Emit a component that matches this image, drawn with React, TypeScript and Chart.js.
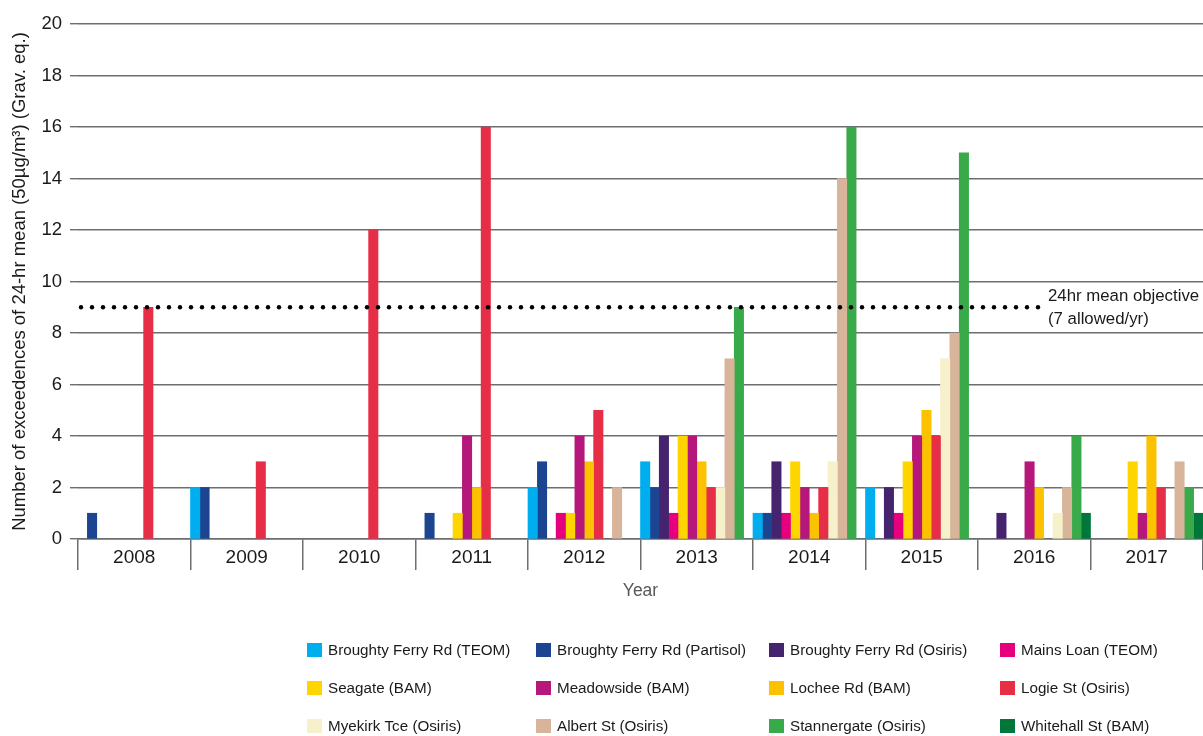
import React, { useEffect, useRef } from "react";
import { Chart, registerables } from "chart.js";

Chart.register(...registerables);

// ---------- data ----------
const YEARS = ["2008", "2009", "2010", "2011", "2012", "2013", "2014", "2015", "2016", "2017"];

const SERIES_NAMES = [
  "Broughty Ferry Rd (TEOM)",
  "Broughty Ferry Rd (Partisol)",
  "Broughty Ferry Rd (Osiris)",
  "Mains Loan (TEOM)",
  "Seagate (BAM)",
  "Meadowside (BAM)",
  "Lochee Rd (BAM)",
  "Logie St (Osiris)",
  "Myekirk Tce (Osiris)",
  "Albert St (Osiris)",
  "Stannergate (Osiris)",
  "Whitehall St (BAM)",
];

const SERIES_COLORS = [
  "#00aeef",
  "#1b4591",
  "#46236e",
  "#e6007e",
  "#ffd500",
  "#b5177a",
  "#fcc200",
  "#e62e47",
  "#f6f0cb",
  "#d7b49a",
  "#39aa4a",
  "#00763a",
];

const BFR_TEOM = [null, 2, null, null, 2, 3, 1, 2, null, null];
const BFR_PARTISOL = [1, 2, null, 1, 3, 2, 1, null, null, null];
const BFR_OSIRIS = [null, null, null, null, null, 4, 3, 2, 1, null];
const MAINS_LOAN = [null, null, null, null, 1, 1, 1, 1, null, null];
const SEAGATE = [null, null, null, 1, 1, 4, 3, 3, null, 3];
const MEADOWSIDE = [null, null, null, 4, 4, 4, 2, 4, 3, 1];
const LOCHEE_RD = [null, null, null, 2, 3, 3, 1, 5, 2, 4];
const LOGIE_ST = [9, 3, 12, 16, 5, 2, 2, 4, null, 2];
const MYEKIRK = [null, null, null, null, null, 2, 3, 7, 1, null];
const ALBERT_ST = [null, null, null, null, 2, 7, 14, 8, 2, 3];
const STANNERGATE = [null, null, null, null, null, 9, 16, 15, 4, 2];
const WHITEHALL = [null, null, null, null, null, null, null, null, 1, 1];

const SERIES_VALUES = [
  BFR_TEOM, BFR_PARTISOL, BFR_OSIRIS, MAINS_LOAN, SEAGATE, MEADOWSIDE,
  LOCHEE_RD, LOGIE_ST, MYEKIRK, ALBERT_ST, STANNERGATE, WHITEHALL,
];

const OBJECTIVE_VALUE = 9;
const OBJECTIVE_LABEL = ["24hr mean objective", "(7 allowed/yr)"];

const Y_TITLE = "Number of exceedences of 24-hr mean (50µg/m³) (Grav. eq.)";
const X_TITLE = "Year";

// ---------- styles ----------
const FONT = "'Liberation Sans', Arial, sans-serif";
const GRID = "#6d6e71";
const TEXT = "#1a1a1a";

const objectivePlugin = {
  id: "objectiveLine",
  afterDatasetsDraw(chart: any) {
    const { ctx, chartArea, scales } = chart;
    const y = scales.y.getPixelForValue(OBJECTIVE_VALUE);
    ctx.save();
    ctx.fillStyle = "#000";
    for (let x = chartArea.left + 3; x <= 1042; x += 11) {
      ctx.beginPath();
      ctx.arc(x, y, 2.2, 0, Math.PI * 2);
      ctx.fill();
    }
    ctx.font = `16.8px ${FONT}`;
    ctx.fillStyle = TEXT;
    ctx.textAlign = "left";
    ctx.textBaseline = "middle";
    ctx.fillText(OBJECTIVE_LABEL[0], 1048, y - 11);
    ctx.fillText(OBJECTIVE_LABEL[1], 1048, y + 12);
    ctx.restore();
  },
};

const legendPlugin = {
  id: "gridLegend",
  afterDraw(chart: any) {
    const { ctx } = chart;
    const colX = [307, 536, 769, 1000];
    const rowY = [650, 688, 726];
    ctx.save();
    ctx.font = `15.2px ${FONT}`;
    ctx.textBaseline = "middle";
    ctx.textAlign = "left";
    chart.data.datasets.forEach((ds: any, i: number) => {
      const x = colX[i % 4];
      const y = rowY[Math.floor(i / 4)];
      ctx.fillStyle = ds.backgroundColor;
      ctx.fillRect(x, y - 7, 15, 14);
      ctx.fillStyle = TEXT;
      ctx.fillText(ds.label, x + 21, y + 1);
    });
    ctx.restore();
  },
};

export default function App() {
  const ref = useRef<HTMLCanvasElement | null>(null);

  useEffect(() => {
    if (!ref.current) return;
    const chart = new Chart(ref.current, {
      type: "bar",
      data: {
        labels: YEARS,
        datasets: SERIES_NAMES.map((name, i) => ({
          label: name,
          data: SERIES_VALUES[i],
          backgroundColor: SERIES_COLORS[i],
          borderWidth: 0,
          barPercentage: 1,
          categoryPercentage: 1,
        })),
      },
      options: {
        animation: false,
        responsive: false,
        layout: { padding: { top: 24, left: 0, right: 0, bottom: 0 } },
        plugins: {
          legend: { display: false },
          tooltip: { enabled: false },
        },
        scales: {
          x: {
            offset: true,
            grid: {
              drawOnChartArea: false,
              tickLength: 31,
              color: GRID,
              lineWidth: 1.5,
              offset: true,
            },
            border: { display: true, color: GRID, width: 1.5 },
            ticks: {
              padding: -24,
              color: TEXT,
              font: { family: FONT, size: 19 },
            },
            title: {
              display: true,
              text: X_TITLE,
              color: "#55585c",
              font: { family: FONT, size: 17.5 },
              padding: { top: 0, bottom: 134.5 },
            },
            afterFit: (s: any) => {
              s.height = 197;
            },
          },
          y: {
            min: 0,
            max: 20,
            ticks: {
              stepSize: 2,
              padding: 8,
              color: TEXT,
              font: { family: FONT, size: 18.5 },
            },
            grid: {
              color: GRID,
              lineWidth: 1.4,
              tickLength: 8,
            },
            border: { display: false },
            title: {
              display: true,
              text: Y_TITLE,
              color: TEXT,
              font: { family: FONT, size: 18.5 },
              padding: { top: 9, bottom: 0 },
            },
            afterFit: (s: any) => {
              s.width = 78;
            },
          },
        },
      },
      plugins: [objectivePlugin, legendPlugin],
    });
    return () => chart.destroy();
  }, []);

  return (
    <div
      style={{
        position: "fixed",
        left: 0,
        top: 0,
        width: 1203,
        height: 736,
        overflow: "hidden",
        background: "#fff",
      }}
    >
      <canvas ref={ref} width={1203} height={736} style={{ display: "block" }} />
    </div>
  );
}
